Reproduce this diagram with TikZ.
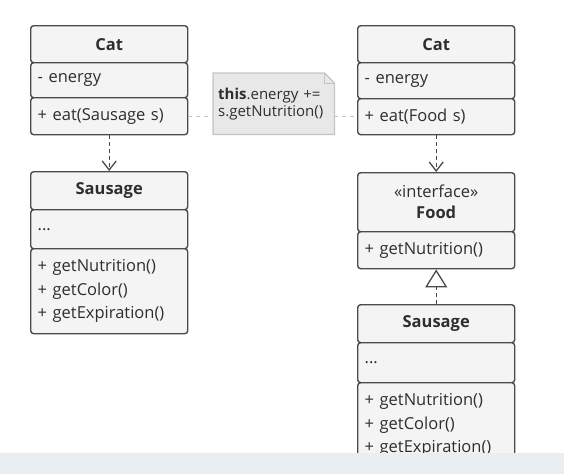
\documentclass[tikz,border=0pt]{standalone}
\usepackage{fontspec}
\setmainfont{Open Sans}
\usetikzlibrary{arrows.meta,backgrounds}
\definecolor{boxline}{HTML}{4A4A4A}
\definecolor{boxfill}{HTML}{F4F4F4}
\definecolor{umltext}{HTML}{2E2E2E}
\definecolor{notefill}{HTML}{E8E8E8}
\definecolor{noteline}{HTML}{C4C4C4}
\definecolor{bandfill}{HTML}{E9EEF0}
\tikzset{
  umlpart/.style={draw=boxline,fill=boxfill,line width=1.4pt,rounded corners=3pt,
    anchor=north west,minimum width=157pt,inner xsep=6pt,text=umltext,
    font=\fontsize{16.5}{23.5}\selectfont},
  umlhead/.style={umlpart,align=center,font=\fontsize{16.5}{21}\selectfont\bfseries},
  umlbody/.style={umlpart,text width=143pt,align=left},
  depends/.style={draw=boxline,line width=1.2pt,dash pattern=on 4pt off 3pt,
    -{Straight Barb[length=9pt,width=14pt,line width=1.3pt]}},
  realizes/.style={draw=boxline,line width=1.2pt,dash pattern=on 4pt off 3pt,
    -{Triangle[open,length=18pt,width=22pt,line width=1.3pt,fill=white]}},
  notelink/.style={draw=noteline,line width=1.2pt,dash pattern=on 4pt off 4pt}
}
\begin{document}
\begin{tikzpicture}[x=1pt,y=-1pt,line cap=butt,line join=round]
  \useasboundingbox (0,0) rectangle (564,474);
  % left side: Cat depends on Sausage
  \node[umlhead,minimum height=37pt] (lcat) at (30,25) {Cat};
  \node[umlbody,minimum height=35pt] (lcatattr) at (30,62) {- energy};
  \node[umlbody,minimum height=37pt] (lcatop) at (30,97) {+ eat(Sausage s)};
  \node[umlhead,minimum height=38pt] (lsaus) at (30,171) {Sausage};
  \node[umlbody,minimum height=39pt] (lsausattr) at (30,209) {...};
  \node[umlbody,minimum height=85pt] (lsausop) at (30,248)
    {+ getNutrition()\\+ getColor()\\+ getExpiration()};
  \draw[depends] (lcatop.south) -- (lsaus.north);
  % note between both sides
  \node[anchor=north west,minimum width=121pt,minimum height=61pt,inner xsep=5pt,
    text width=111pt,align=left,text=umltext,font=\fontsize{15}{17}\selectfont]
    (note) at (213,73) {\textbf{this}.energy +=\\s.getNutrition()};
  \begin{scope}[on background layer]
    \draw[draw=noteline,fill=notefill,line width=1.2pt]
      (note.north west) -- ([xshift=-10pt]note.north east)
      -- ([yshift=-10pt]note.north east) -- (note.south east)
      -- (note.south west) -- cycle;
    \draw[draw=noteline,line width=1pt]
      ([xshift=-10pt]note.north east) |- ([yshift=-10pt]note.north east);
  \end{scope}
  % right side: Cat depends on Food, Sausage implements Food
  \node[umlhead,minimum height=37pt] (rcat) at (357,25) {Cat};
  \node[umlbody,minimum height=36pt] (rcatattr) at (357,62) {- energy};
  \node[umlbody,minimum height=36pt] (rcatop) at (357,98) {+ eat(Food s)};
  \node[umlhead,minimum height=59pt] (food) at (357,172)
    {\mdseries «interface»\\Food};
  \node[umlbody,minimum height=37pt] (foodop) at (357,231) {+ getNutrition()};
  \node[umlhead,minimum height=38pt] (rsaus) at (357,304) {Sausage};
  \node[umlbody,minimum height=40pt] (rsausattr) at (357,342) {...};
  \node[umlbody,minimum height=85pt] (rsausop) at (357,382)
    {+ getNutrition()\\+ getColor()\\+ getExpiration()};
  \draw[depends] (rcatop.south) -- (food.north);
  \draw[realizes] (rsaus.north) -- (foodop.south);
  % note links
  \draw[notelink] (lcatop.east) -- (lcatop.east -| note.west);
  \draw[notelink] (rcatop.west -| note.east) -- (rcatop.west);
  % bottom band
  \fill[bandfill] (0,453) rectangle (564,474);
\end{tikzpicture}
\end{document}
